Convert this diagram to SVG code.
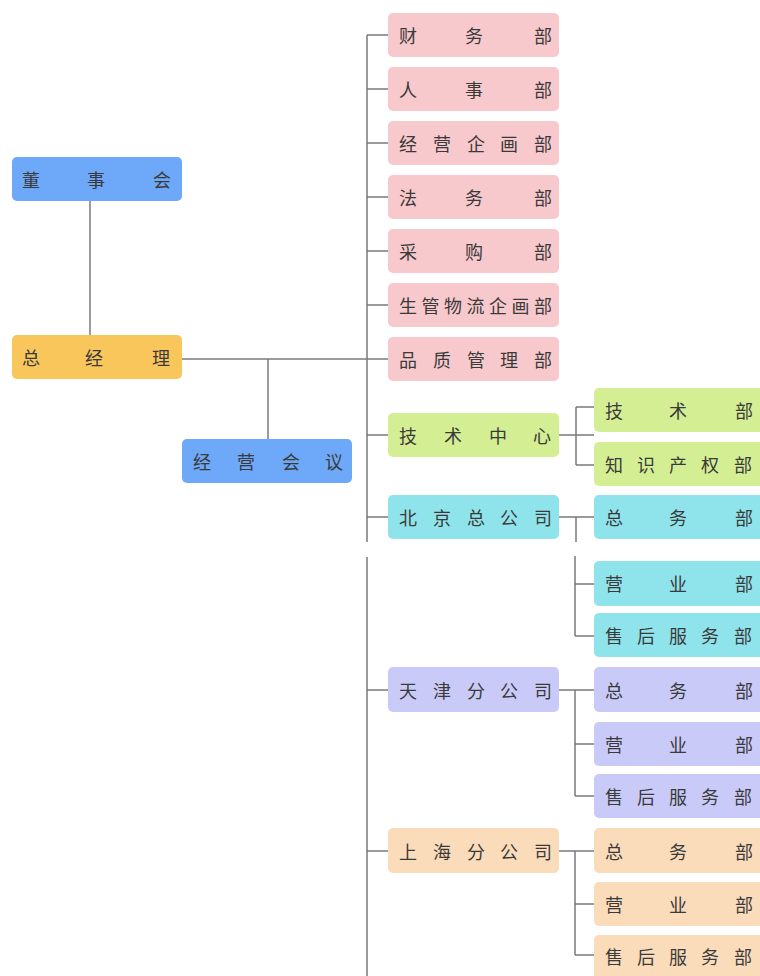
<svg xmlns="http://www.w3.org/2000/svg" width="760" height="976" viewBox="0 0 760 976">
<style>
.t{font-family:"Noto Sans CJK SC","Noto Sans",sans-serif;font-size:18px;fill:#3a3a3a;dominant-baseline:central}
.c{stroke:#7a7a7a;stroke-width:1.5;fill:none}
.blue{fill:#6ea8f8}.orange{fill:#f9c65c}.pink{fill:#f8c9cc}.green{fill:#d4ef93}.cyan{fill:#8fe3ea}.lav{fill:#cacaf8}.peach{fill:#fbdcba}
</style>
<rect width="760" height="976" fill="#ffffff"/>
<g id="connectors">
<path class="c" d="M90 200V335"/>
<path class="c" d="M182 359H388"/>
<path class="c" d="M268 359V439"/>
<path class="c" d="M367 35V542M367 557V976"/>
<path class="c" d="M367 35H388M367 89H388M367 143H388M367 197H388M367 251H388M367 305H388"/>
<path class="c" d="M367 435H388M367 517H388M367 690H388M367 851H388"/>
<path class="c" d="M559 435H594M576 407V465M576 407H594M576 465H594"/>
<path class="c" d="M559 517H594M576 517V542M575 556V636M575 584H594M575 636H594"/>
<path class="c" d="M559 690H594M575 690V796M575 744H594M575 796H594"/>
<path class="c" d="M559 851H594M575 851V955M575 904H594M575 955H594"/>
</g>
<g id="n-dongshihui"><rect class="blue" x="12" y="157" width="170" height="44" rx="5"/><text class="t" x="22 87 153" y="179">董事会</text></g>
<g id="n-zongjingli"><rect class="orange" x="12" y="335" width="170" height="44" rx="5"/><text class="t" x="22 85 152" y="357">总经理</text></g>
<g id="n-jingyinghuiyi"><rect class="blue" x="182" y="439" width="170" height="44" rx="5"/><text class="t" x="193 237 282 325" y="461">经营会议</text></g>
<g id="n-caiwu"><rect class="pink" x="388" y="13" width="171" height="44" rx="5"/><text class="t" x="399 465 534" y="35">财务部</text></g>
<g id="n-renshi"><rect class="pink" x="388" y="67" width="171" height="44" rx="5"/><text class="t" x="399 465 534" y="89">人事部</text></g>
<g id="n-jingyingqihua"><rect class="pink" x="388" y="121" width="171" height="44" rx="5"/><text class="t" x="399 433 467 500 534" y="143">经营企画部</text></g>
<g id="n-fawu"><rect class="pink" x="388" y="175" width="171" height="44" rx="5"/><text class="t" x="399 465 534" y="197">法务部</text></g>
<g id="n-caigou"><rect class="pink" x="388" y="229" width="171" height="44" rx="5"/><text class="t" x="399 465 534" y="251">采购部</text></g>
<g id="n-shengguan"><rect class="pink" x="388" y="283" width="171" height="44" rx="5"/><text class="t" x="399 421.5 444 466.5 489 511.5 534" y="305">生管物流企画部</text></g>
<g id="n-pinzhi"><rect class="pink" x="388" y="337" width="171" height="44" rx="5"/><text class="t" x="399 433 467 500 534" y="359">品质管理部</text></g>
<g id="n-jishuzhongxin"><rect class="green" x="388" y="413" width="171" height="44" rx="5"/><text class="t" x="399 444 489 533" y="435">技术中心</text></g>
<g id="n-jishubu"><rect class="green" x="594" y="388" width="180" height="44" rx="5"/><text class="t" x="605 669 735" y="410">技术部</text></g>
<g id="n-zhishichanquan"><rect class="green" x="594" y="442" width="180" height="44" rx="5"/><text class="t" x="605 637 669 701 734" y="464">知识产权部</text></g>
<g id="n-beijing"><rect class="cyan" x="388" y="495" width="171" height="44" rx="5"/><text class="t" x="399 433 467 500 534" y="517">北京总公司</text></g>
<g id="n-bj-zongwu"><rect class="cyan" x="594" y="495" width="180" height="44" rx="5"/><text class="t" x="605 669 735" y="517">总务部</text></g>
<g id="n-bj-yingye"><rect class="cyan" x="594" y="561" width="180" height="45" rx="5"/><text class="t" x="605 669 735" y="583">营业部</text></g>
<g id="n-bj-shouhou"><rect class="cyan" x="594" y="613" width="180" height="44" rx="5"/><text class="t" x="605 637 669 701 734" y="635">售后服务部</text></g>
<g id="n-tianjin"><rect class="lav" x="388" y="667" width="171" height="45" rx="5"/><text class="t" x="399 433 467 500 534" y="690">天津分公司</text></g>
<g id="n-tj-zongwu"><rect class="lav" x="594" y="667" width="180" height="45" rx="5"/><text class="t" x="605 669 735" y="690">总务部</text></g>
<g id="n-tj-yingye"><rect class="lav" x="594" y="722" width="180" height="44" rx="5"/><text class="t" x="605 669 735" y="744">营业部</text></g>
<g id="n-tj-shouhou"><rect class="lav" x="594" y="774" width="180" height="44" rx="5"/><text class="t" x="605 637 669 701 734" y="796">售后服务部</text></g>
<g id="n-shanghai"><rect class="peach" x="388" y="828" width="171" height="45" rx="5"/><text class="t" x="399 433 467 500 534" y="851">上海分公司</text></g>
<g id="n-sh-zongwu"><rect class="peach" x="594" y="828" width="180" height="45" rx="5"/><text class="t" x="605 669 735" y="851">总务部</text></g>
<g id="n-sh-yingye"><rect class="peach" x="594" y="882" width="180" height="44" rx="5"/><text class="t" x="605 669 735" y="904">营业部</text></g>
<g id="n-sh-shouhou"><rect class="peach" x="594" y="935" width="180" height="50" rx="5"/><text class="t" x="605 637 669 701 734" y="956">售后服务部</text></g>
</svg>
